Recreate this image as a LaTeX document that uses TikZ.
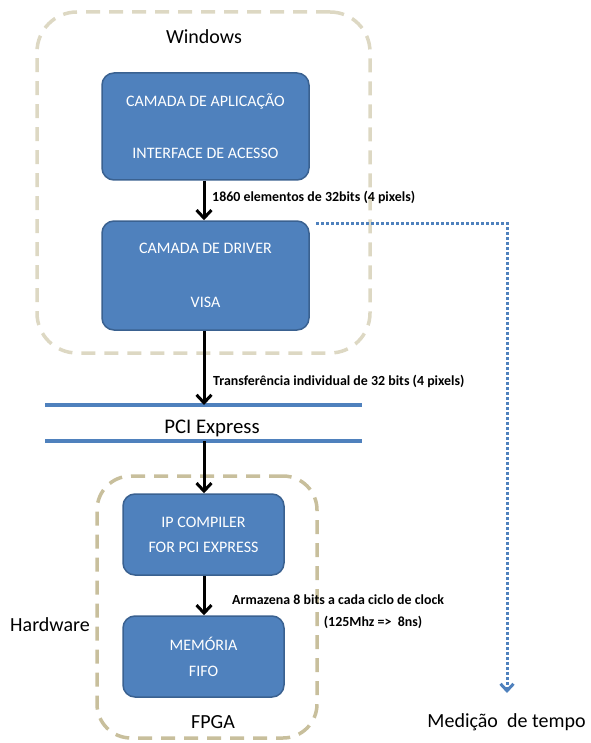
\documentclass[tikz,border=0pt]{standalone}
\usepackage{fontspec}
\setmainfont{Carlito}
\usetikzlibrary{arrows.meta}
\definecolor{boxfill}{HTML}{4F81BD}
\definecolor{boxedge}{HTML}{3A6190}
\definecolor{winedge}{HTML}{DDD8C3}
\definecolor{fpgaedge}{HTML}{C8BF9C}
\definecolor{busblue}{HTML}{4F81BD}
\begin{document}
\begin{tikzpicture}[x=1pt,y=-1pt,
  group/.style={draw, line width=3.5pt, dash pattern=on 14pt off 9pt,
    rounded corners=40pt, inner sep=0pt},
  layer/.style={draw=boxedge, fill=boxfill, line width=1.5pt, rounded corners=12pt,
    text=white, align=center, inner sep=0pt, font=\fontsize{16}{19}\selectfont},
  title/.style={font=\fontsize{20}{24}\selectfont, inner sep=0pt},
  note/.style={font=\bfseries\fontsize{13.9}{16}\selectfont, inner sep=0pt},
  flow/.style={line width=3pt, -{Straight Barb[length=8pt,width=15pt]}},
  bus/.style={draw=busblue, line width=4pt},
  timing/.style={draw=busblue, line width=3pt, dash pattern=on 3pt off 2pt,
    -{Straight Barb[length=7pt,width=13pt,line width=3pt]}}]
\useasboundingbox (0,0) rectangle (590,743);

% dashed domains
\node[group, draw=winedge, minimum width=333pt, minimum height=341pt] (win) at (203.5,182.5) {};
\node[group, draw=fpgaedge, minimum width=220pt, minimum height=262pt, rounded corners=34pt] (fpga) at (207,607) {};
\node[title] (winlbl) at (204,37) {Windows};
\node[title] (fpgalbl) at (213,722) {FPGA};
\node[title] (hwlbl) at (50,625) {Hardware};

% software layers
\node[layer, minimum width=207pt, minimum height=107pt] (app) at (205.5,126.5)
  {CAMADA DE APLICAÇÃO\\[33pt]INTERFACE DE ACESSO};
\node[layer, minimum width=207pt, minimum height=109pt] (drv) at (205.5,275.5)
  {CAMADA DE DRIVER\\[35pt]VISA};

% hardware blocks
\node[layer, minimum width=161pt, minimum height=81pt] (ip) at (203.5,534.5)
  {IP COMPILER\\[6pt]FOR PCI EXPRESS};
\node[layer, minimum width=161pt, minimum height=81pt] (fifo) at (203.5,656.5)
  {MEMÓRIA\\[7pt]FIFO};

% PCI Express bus
\coordinate (busTopL) at (45,405);
\coordinate (busTopR) at (362,405);
\coordinate (busBotL) at (45,441);
\coordinate (busBotR) at (362,441);
\draw[bus] (busTopL) -- (busTopR);
\draw[bus] (busBotL) -- (busBotR);
\node[title, font=\fontsize{20.8}{24}\selectfont] (pci) at (212,428) {PCI Express};

% data flow
\draw[flow] (app.south -| 204,0) -- (drv.north -| 204,0);
\draw[flow] (drv.south -| 204,0) -- (busTopL -| 204,0);
\draw[flow] (busBotL -| 204,0) -- (ip.north -| 204,0);
\draw[flow] (ip.south -| 204,0) -- (fifo.north -| 204,0);

\node[note, anchor=west] (n1) at (212,197) {1860 elementos de 32bits (4 pixels)};
\node[note, anchor=west] (n2) at (213,381) {Transferência individual de 32 bits (4 pixels)};
\node[note, anchor=west] (n3) at (232,600) {Armazena 8 bits a cada ciclo de clock};
\node[note] (n4) at (373,622) {(125Mhz =>~~8ns)};

% timing measurement
\node[title] (tlbl) at (506.5,722) {Medição~~de tempo};
\coordinate (tStart) at (316,223);
\coordinate (tCorner) at (507,223);
\coordinate (tEnd) at (507,693);
\draw[timing] (tStart) -- (tCorner) -- (tEnd);
\end{tikzpicture}
\end{document}
